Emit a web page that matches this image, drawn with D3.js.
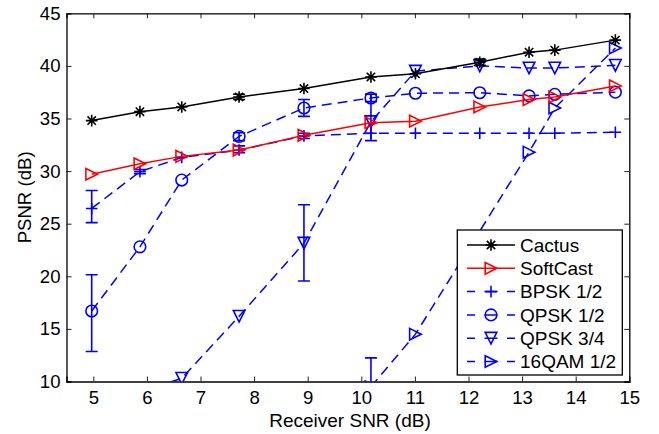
<!DOCTYPE html>
<html><head><meta charset="utf-8">
<script src="https://cdn.jsdelivr.net/npm/d3@7"></script>
<style>body{margin:0;background:#fff}text{font-family:"Liberation Sans",Arial,sans-serif}</style>
</head><body><svg id="c" width="659" height="434"></svg>
<script>
const xVals = [4.97, 5.87, 6.65, 7.72, 8.93, 10.18, 11.01, 12.21, 13.13, 13.61, 14.74];
const cactus   = [34.8, 35.65, 36.1, 37.05, 37.85, 38.95, 39.25, 40.35, 41.3, 41.5, 42.45];
const softcast = [29.7, 30.7, 31.4, 32.0, 33.4, 34.6, 34.75, 36.1, 36.8, 37.05, 38.1];
const bpsk12   = [26.45, 29.95, 31.3, 32.0, 33.35, 33.6, 33.6, 33.6, 33.6, 33.6, 33.7];
const qpsk12   = [16.7, 22.8, 29.15, 33.3, 36.0, 36.95, 37.4, 37.45, 37.15, 37.3, 37.5];
const qpsk34   = [null, 9.0, 10.3, 16.2, 23.15, 34.7, 39.5, 40.0, 39.8, 39.8, 40.05];
const qam16    = [null, null, null, null, null, 9.5, 14.5, null, 31.8, 36.0, 41.7];

const cactusLo = [null, null, null, 36.8, null, null, null, 40.05, null, null, null];
const cactusHi = [null, null, null, 37.3, null, null, null, 40.65, null, null, null];
const bpskLo   = [25.1, 29.75, null, 31.75, 33.1, null, null, null, null, null, null];
const bpskHi   = [28.15, 30.15, null, 32.4, 33.6, null, null, null, null, null, null];
const qpsk12Lo = [12.85, null, null, 32.9, 35.2, 36.6, null, null, null, null, null];
const qpsk12Hi = [20.15, null, null, 33.65, 36.8, 37.3, null, null, null, null, null];
const qpsk34Lo = [null, null, null, null, 19.55, 32.9, null, null, null, null, null];
const qpsk34Hi = [null, null, null, null, 26.8, 37.3, null, null, null, null, null];
const qam16Lo  = [null, null, null, null, null, 6.7, null, null, null, null, null];
const qam16Hi  = [null, null, null, null, null, 12.25, null, null, null, null, null];

const xTicks = [5, 6, 7, 8, 9, 10, 11, 12, 13, 14, 15];
const yTicks = [10, 15, 20, 25, 30, 35, 40, 45];
const seriesNames = ["Cactus", "SoftCast", "BPSK 1/2", "QPSK 1/2", "QPSK 3/4", "16QAM 1/2"];

const series = [
  {name: seriesNames[0], v: cactus, lo: cactusLo, hi: cactusHi, color: "#000", dash: null, marker: "star"},
  {name: seriesNames[1], v: softcast, lo: null, hi: null, color: "#f00", dash: null, marker: "tri-right"},
  {name: seriesNames[2], v: bpsk12, lo: bpskLo, hi: bpskHi, color: "#00f", dash: "10,6", marker: "plus"},
  {name: seriesNames[3], v: qpsk12, lo: qpsk12Lo, hi: qpsk12Hi, color: "#00f", dash: "10,6", marker: "circle"},
  {name: seriesNames[4], v: qpsk34, lo: qpsk34Lo, hi: qpsk34Hi, color: "#00f", dash: "10,6", marker: "tri-down"},
  {name: seriesNames[5], v: qam16, lo: qam16Lo, hi: qam16Hi, color: "#00f", dash: "10,6", marker: "tri-right"}
];

const svg = d3.select("#c");
const L = 66.5, R = 629.3, T = 13.3, B = 381.5;
const x = d3.scaleLinear().domain([4.5, 15]).range([L, R]);
const y = d3.scaleLinear().domain([10, 45]).range([B, T]);

svg.append("defs").append("clipPath").attr("id", "clip")
  .append("rect").attr("x", L).attr("y", T).attr("width", R - L).attr("height", B - T);

const FS = 18.6;
const axB = svg.append("g").attr("transform", `translate(0,${B})`)
  .call(d3.axisBottom(x).tickValues(xTicks).tickSize(-5).tickPadding(9).tickFormat(d3.format("d")));
const axT = svg.append("g").attr("transform", `translate(0,${T})`)
  .call(d3.axisTop(x).tickValues(xTicks).tickSize(-5).tickFormat(""));
const axL = svg.append("g").attr("transform", `translate(${L},0)`)
  .call(d3.axisLeft(y).tickValues(yTicks).tickSize(-5).tickPadding(6).tickFormat(d3.format("d")));
const axR = svg.append("g").attr("transform", `translate(${R},0)`)
  .call(d3.axisRight(y).tickValues(yTicks).tickSize(-5).tickFormat(""));
[axB, axT, axL, axR].forEach(a => {
  a.select(".domain").attr("stroke", "#000").attr("stroke-width", 1.3);
  a.selectAll(".tick line").attr("stroke", "#222").attr("stroke-width", 1);
  a.selectAll("text").attr("font-size", FS).attr("fill", "#000")
    .style("font-family", '"Liberation Sans",Arial,sans-serif');
});
axB.selectAll(".tick line").filter(d => d === 15).remove();
axL.selectAll(".tick line").filter(d => d === 10 || d === 45).remove();
axR.selectAll(".tick line").filter(d => d === 10 || d === 45).remove();
axT.selectAll(".tick line").filter(d => d === 15).remove();

svg.append("text").attr("x", 350).attr("y", 427).attr("text-anchor", "middle")
  .attr("font-size", 19).text("Receiver SNR (dB)");
svg.append("text").attr("transform", `translate(31,${(T + B) / 2}) rotate(-90)`)
  .attr("text-anchor", "middle").attr("font-size", FS).text("PSNR (dB)");

function drawMarker(g, type, cx, cy, color) {
  const s = 5.8;
  if (type === "star") {
    const p = d3.path();
    p.moveTo(cx - s, cy); p.lineTo(cx + s, cy);
    p.moveTo(cx, cy - s); p.lineTo(cx, cy + s);
    const d = s * 0.72;
    p.moveTo(cx - d, cy - d); p.lineTo(cx + d, cy + d);
    p.moveTo(cx - d, cy + d); p.lineTo(cx + d, cy - d);
    g.append("path").attr("d", p.toString()).attr("stroke", color).attr("stroke-width", 1.6).attr("fill", "none");
  } else if (type === "plus") {
    const p = d3.path();
    p.moveTo(cx - s, cy); p.lineTo(cx + s, cy);
    p.moveTo(cx, cy - s); p.lineTo(cx, cy + s);
    g.append("path").attr("d", p.toString()).attr("stroke", color).attr("stroke-width", 1.6).attr("fill", "none");
  } else if (type === "circle") {
    g.append("circle").attr("cx", cx).attr("cy", cy).attr("r", s).attr("stroke", color).attr("stroke-width", 1.6).attr("fill", "none");
  } else if (type === "tri-right") {
    const pts = [[cx - s, cy - s], [cx + s, cy], [cx - s, cy + s]];
    g.append("path").attr("d", d3.line()(pts) + "Z").attr("stroke", color).attr("stroke-width", 1.6).attr("fill", "none");
  } else if (type === "tri-down") {
    const pts = [[cx - s, cy - s], [cx + s, cy - s], [cx, cy + s]];
    g.append("path").attr("d", d3.line()(pts) + "Z").attr("stroke", color).attr("stroke-width", 1.6).attr("fill", "none");
  }
}

const plot = svg.append("g").attr("clip-path", "url(#clip)");
const line = d3.line().x(d => x(d[0])).y(d => y(d[1]));

const order = [2, 3, 4, 5, 1, 0];
order.forEach(i => {
  const s = series[i];
  const pts = xVals.map((xv, k) => [xv, s.v[k], k]).filter(p => p[1] !== null);
  const g = plot.append("g");
  g.append("path").attr("d", line(pts)).attr("fill", "none").attr("stroke", s.color)
    .attr("stroke-width", 1.5).attr("stroke-dasharray", s.dash);
  if (s.lo) {
    xVals.forEach((xv, k) => {
      if (s.lo[k] === null) return;
      const px = x(xv), y1 = y(s.lo[k]), y2 = y(s.hi[k]), w = 6;
      const p = d3.path();
      p.moveTo(px, y1); p.lineTo(px, y2);
      p.moveTo(px - w, y1); p.lineTo(px + w, y1);
      p.moveTo(px - w, y2); p.lineTo(px + w, y2);
      g.append("path").attr("d", p.toString()).attr("stroke", s.color).attr("stroke-width", 1.6).attr("fill", "none");
    });
  }
  pts.forEach(p => drawMarker(g, s.marker, x(p[0]), y(p[1]), s.color));
});

const lg = svg.append("g");
const LX = 457.3, LY = 230, LW = 165, LH = 145;
lg.append("rect").attr("x", LX).attr("y", LY).attr("width", LW).attr("height", LH)
  .attr("fill", "#fff").attr("stroke", "#000").attr("stroke-width", 1.3);
series.forEach((s, i) => {
  const cy = 245 + i * 23.3;
  lg.append("line").attr("x1", 467).attr("x2", 515).attr("y1", cy).attr("y2", cy)
    .attr("stroke", s.color).attr("stroke-width", 1.5).attr("stroke-dasharray", s.dash ? "8,9.5,13,9.5,8" : null);
  drawMarker(lg, s.marker, 491, cy, s.color);
  lg.append("text").attr("x", 520).attr("y", cy + 6.8).attr("font-size", 19).text(s.name);
});
</script></body></html>
